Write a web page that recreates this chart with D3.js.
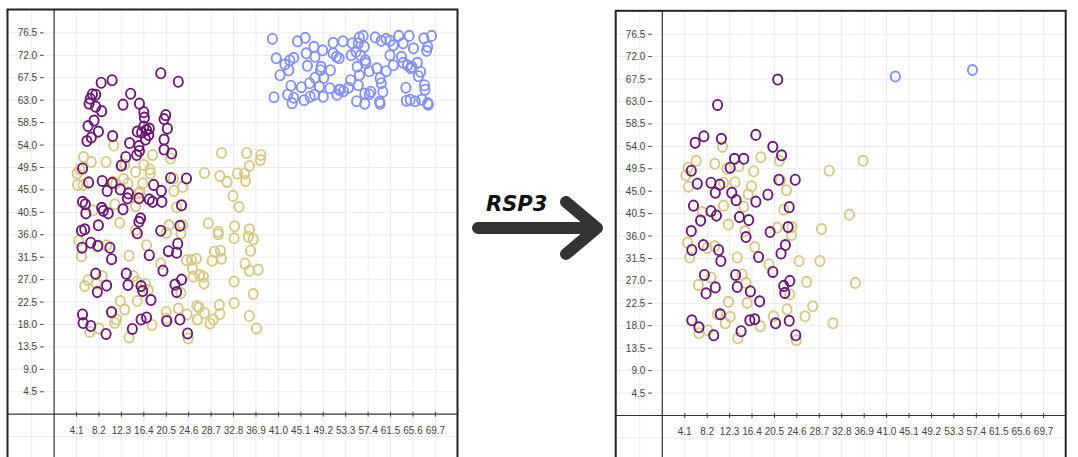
<!DOCTYPE html>
<html>
<head>
<meta charset="utf-8">
<script src="https://cdn.jsdelivr.net/npm/d3@7"></script>
<style>
  body { margin: 0; background: #fff; }
  svg { display: block; font-family: "Liberation Sans", Arial, sans-serif; }
</style>
</head>
<body>
<svg id="chart" width="1078" height="457"></svg>
<script>
// tick labels (same on both panels)
const xTicks = [4.1, 8.2, 12.3, 16.4, 20.5, 24.6, 28.7, 32.8, 36.9, 41.0, 45.1, 49.2, 53.3, 57.4, 61.5, 65.6, 69.7];
const yTicks = [4.5, 9.0, 13.5, 18.0, 22.5, 27.0, 31.5, 36.0, 40.5, 45.0, 49.5, 54.0, 58.5, 63.0, 67.5, 72.0, 76.5];

const arrowLabel = "RSP3";

// before (left panel)
const beforeBlue = [
  [39.9,75.3],[44.5,74.8],[45.9,75.5],[47.5,73.7],[49.1,73.0],[51.0,74.5],[52.8,74.8],[54.5,74.4],[55.8,75.6],[56.5,75.9],
  [55.6,74.4],[56.7,73.7],[58.7,75.6],[59.8,74.9],[60.7,75.3],[61.4,74.9],[63.0,75.9],[64.9,75.9],[67.6,75.4],[69.0,75.9],
  [68.3,73.7],[68.1,72.9],[65.7,73.4],[63.8,74.4],[62.0,74.0],
  [40.6,71.4],[42.2,70.2],[43.1,71.0],[43.8,71.5],[42.9,69.0],[41.3,68.0],[46.1,72.4],[46.3,69.9],[47.7,71.7],[48.8,69.7],
  [49.3,67.5],[48.7,69.0],[50.5,69.0],[51.6,71.7],[52.1,71.4],[51.0,72.4],[54.3,72.0],[55.2,72.7],[56.0,72.0],[56.9,71.0],
  [57.0,70.4],[55.4,69.7],[55.8,68.0],[54.2,67.0],[57.6,68.8],[59.0,69.4],[60.7,68.8],[61.4,72.0],[62.0,70.0],[63.5,71.7],
  [63.8,70.5],[64.6,70.0],[65.4,69.7],[66.4,70.5],[67.0,68.7],[66.6,67.8],[65.2,69.4],
  [43.3,65.9],[45.2,65.6],[46.7,66.4],[47.7,67.5],[48.5,65.7],[50.4,65.4],[52.3,65.1],[52.9,64.8],[53.8,65.5],[55.6,66.0],
  [59.6,67.4],[59.8,66.4],[60.1,64.7],[57.9,64.7],[56.8,64.3],[64.3,65.5],[67.7,66.0],[67.8,65.1],
  [40.2,63.6],[42.7,64.1],[43.5,62.4],[43.8,63.5],[45.7,63.0],[46.8,63.7],[47.6,64.1],[49.2,63.7],[51.7,64.1],[52.1,65.1],
  [55.3,62.8],[56.8,62.3],[57.6,64.2],[59.6,62.3],[59.5,62.7],[64.4,62.9],[66.0,62.8],[67.2,63.1],[68.3,62.4],[68.4,62.1],
  [65.1,63.1]
];

const beforePurple = [
  [8.6,66.5],[10.6,67.0],[19.5,68.4],[22.7,66.7],[14.0,64.3],[7.0,64.2],[7.6,64.1],[6.6,63.3],[6.4,62.3],[7.6,61.7],
  [8.7,60.8],[12.6,62.1],[15.6,62.3],[16.4,60.6],[16.5,59.5],[20.4,60.0],[20.1,59.2],[20.7,57.3],[7.3,58.9],[6.2,57.8],
  [8.1,56.7],[6.8,55.5],[6.0,54.8],[10.7,55.8],[13.8,54.4],[15.2,56.7],[16.0,56.5],[16.9,57.0],[17.4,57.3],[16.4,57.7],
  [17.3,56.0],[16.7,55.1],[20.1,55.1],[20.1,53.1],[15.5,53.8],[15.6,52.8],[15.1,52.0],[13.1,51.6],[12.3,49.9],[5.2,49.3],
  [21.5,52.3],[21.3,47.4],[24.2,47.3],[6.3,46.5],[8.8,46.8],[9.7,44.8],[10.6,46.4],[12.1,45.1],[13.6,44.3],[13.4,43.3],
  [15.5,43.3],[17.4,43.1],[18.0,42.6],[18.2,46.0],[19.6,44.8],[19.7,42.6],[23.3,41.9],[5.2,42.6],[5.7,42.1],[5.8,40.3],
  [8.7,41.4],[9.0,40.8],[9.9,40.3],[12.6,41.1],[15.8,39.3],[15.5,38.6],[8.1,37.9],[5.0,36.8],[5.6,37.1],[19.5,36.8],
  [23.0,37.8],[15.2,36.3],[5.1,33.4],[6.7,34.4],[8.0,33.8],[10.2,33.4],[10.5,31.1],[17.4,31.9],[22.6,34.2],[22.4,32.4],
  [20.9,32.7],[19.9,28.8],[7.6,28.2],[7.9,24.5],[9.6,25.8],[13.2,28.2],[13.5,25.9],[15.9,25.7],[16.2,24.7],[17.7,22.9],
  [22.1,26.0],[23.3,27.0],[22.4,24.5],[5.2,20.0],[5.3,18.3],[6.7,17.7],[9.5,16.1],[10.5,20.5],[14.3,17.1],[15.9,19.0],
  [16.9,19.4],[20.6,18.7],[23.0,19.0],[24.4,16.2]
];

const beforeYellow = [
  [10.9,53.9],[5.4,51.6],[6.8,50.6],[9.5,50.6],[18.0,52.0],[21.3,51.3],[30.6,52.4],[35.2,52.4],[37.8,52.0],[37.7,51.0],
  [35.7,49.8],[4.2,48.3],[4.7,49.1],[12.2,49.8],[12.9,50.1],[14.9,48.6],[17.5,49.1],[17.6,48.3],[16.4,50.0],[27.5,48.4],
  [30.3,47.8],[31.6,46.6],[33.5,48.3],[34.8,48.3],[35.0,46.8],[4.3,46.0],[5.3,46.0],[10.8,46.6],[11.3,46.3],[12.7,47.2],
  [13.5,46.3],[16.2,46.3],[15.7,44.6],[15.4,44.3],[21.8,47.3],[21.9,44.8],[23.5,45.6],[32.7,43.8],[33.8,41.6],[7.1,40.9],
  [11.1,42.1],[14.9,41.7],[22.4,41.5],[12.0,38.4],[14.9,36.9],[21.0,37.9],[23.5,37.9],[28.2,38.3],[30.0,36.6],[33.0,37.7],
  [35.7,37.1],[4.5,34.8],[5.0,31.7],[7.9,33.6],[9.6,33.9],[13.7,31.8],[16.9,33.9],[20.5,36.4],[23.2,36.3],[30.0,36.1],
  [32.9,35.3],[36.4,35.1],[35.5,35.6],[19.5,30.2],[24.2,30.9],[25.1,31.0],[26.0,31.2],[25.3,29.2],[25.4,27.6],[29.3,32.6],
  [30.4,32.8],[30.6,31.2],[28.9,30.8],[34.9,30.2],[35.7,28.8],[35.9,32.8],[37.3,29.0],[5.6,25.7],[6.2,26.9],[7.7,26.2],
  [8.8,27.7],[14.5,27.7],[15.1,26.6],[16.7,26.1],[17.2,24.9],[26.6,27.9],[27.3,27.6],[27.4,26.2],[23.2,24.3],[32.9,26.6],
  [36.4,24.1],[12.1,22.7],[12.9,21.0],[15.2,22.7],[11.4,19.0],[11.1,18.3],[10.5,20.3],[8.2,17.2],[6.5,16.5],[13.7,15.4],
  [17.9,17.9],[20.5,20.5],[20.5,19.2],[22.7,21.2],[24.3,20.0],[26.1,21.7],[26.5,21.4],[26.2,19.0],[27.5,20.3],[28.5,18.2],
  [29.1,19.0],[30.2,21.9],[30.3,20.1],[32.9,22.3],[35.7,19.7],[37.0,17.2],[24.5,15.2]
];

// after (right panel)
const afterBlue = [[42.6,68.0],[56.7,69.3]];

const afterPurple = [
  [21.1,67.4],[10.1,62.3],[6.0,54.7],[7.6,56.0],[10.8,55.5],[17.1,56.3],[20.2,53.9],[21.8,52.2],[13.2,51.5],[14.9,51.5],
  [12.4,49.7],[5.3,49.1],[6.4,46.5],[8.9,46.7],[10.5,46.3],[9.7,44.7],[12.7,44.7],[13.5,43.2],[17.1,42.9],[19.3,44.3],
  [21.3,47.3],[24.3,47.3],[23.2,41.8],[5.7,42.1],[8.9,41.0],[9.9,40.1],[7.0,39.1],[14.1,39.8],[15.8,39.2],[5.3,37.0],
  [19.7,36.8],[23.0,37.8],[15.3,35.8],[5.4,33.2],[7.5,34.2],[10.3,33.2],[10.7,31.0],[17.6,31.8],[22.5,34.2],[21.7,32.5],
  [20.2,28.8],[7.7,28.2],[8.0,24.5],[9.7,25.7],[13.4,28.2],[13.7,25.8],[16.1,24.9],[17.8,22.9],[22.2,26.0],[23.3,27.0],
  [22.4,24.6],[5.4,19.1],[6.7,17.7],[9.4,16.1],[10.6,20.3],[14.4,16.9],[16.0,19.1],[16.9,19.3],[20.7,18.5],[23.2,19.0],
  [24.4,16.1]
];

const afterYellow = [
  [11.0,53.9],[6.2,51.1],[9.6,50.5],[18.0,51.8],[21.4,51.1],[36.7,51.1],[30.5,49.1],[4.7,49.7],[4.3,48.2],[4.8,45.9],
  [11.8,49.5],[14.0,50.0],[16.7,49.0],[11.2,46.7],[13.3,46.8],[16.3,46.0],[15.7,44.4],[21.6,47.2],[22.7,45.2],[7.3,40.8],
  [11.2,42.1],[14.9,41.9],[22.2,41.3],[34.2,40.3],[12.1,38.3],[15.1,37.0],[21.0,37.7],[23.7,37.8],[29.1,37.4],[4.6,34.7],
  [5.0,31.7],[8.2,33.6],[9.6,34.0],[13.7,31.7],[16.9,33.8],[23.6,36.2],[19.5,30.3],[25.0,31.0],[28.8,31.0],[6.6,26.2],
  [8.9,27.7],[14.6,28.3],[15.3,26.6],[26.4,26.8],[23.3,24.3],[35.3,26.6],[12.1,22.8],[15.5,22.6],[27.5,21.9],[22.8,21.3],
  [10.1,20.3],[12.4,19.8],[11.5,18.5],[6.7,16.5],[8.3,17.1],[13.8,15.5],[17.9,17.9],[20.3,19.9],[26.1,19.9],[31.2,18.5],
  [24.5,15.1]
];

const colors = { yellow: "#d6c882", purple: "#6a1874", blue: "#8391f2" };

const panels = [
  { tx: 7.5, ty: 9.5, blue: beforeBlue, purple: beforePurple, yellow: beforeYellow },
  { tx: 615.7, ty: 10.8, blue: afterBlue, purple: afterPurple, yellow: afterYellow }
];

const svg = d3.select("#chart");
const panelW = 450, panelH = 470;
const ox = 46.6, oy = 404.7, step = 22.43;

panels.forEach((p, i) => {
  const g = svg.append("g").attr("transform", `translate(${p.tx},${p.ty})`);

  g.append("clipPath").attr("id", "clip" + i)
    .append("rect").attr("width", panelW).attr("height", panelH);

  const x = d3.scaleLinear().domain([0, 69.7]).range([ox, ox + 17 * step]);
  const y = d3.scaleLinear().domain([0, 76.5]).range([oy, oy - 17 * step]);

  const body = g.append("g").attr("clip-path", `url(#clip${i})`);

  // grid
  const gx = [-4.1, ...xTicks];
  const gy = [-4.5, ...yTicks];
  body.append("g").selectAll("line").data(gx).join("line")
    .attr("x1", d => x(d)).attr("x2", d => x(d))
    .attr("y1", 0).attr("y2", panelH)
    .attr("stroke", "#ebebeb").attr("stroke-width", 1);
  body.append("g").selectAll("line").data(gy).join("line")
    .attr("x1", 0).attr("x2", panelW)
    .attr("y1", d => y(d)).attr("y2", d => y(d))
    .attr("stroke", "#ebebeb").attr("stroke-width", 1);

  // axes
  body.append("line").attr("x1", 0).attr("x2", panelW)
    .attr("y1", y(0)).attr("y2", y(0))
    .attr("stroke", "#333").attr("stroke-width", 1.2);
  body.append("line").attr("x1", x(0)).attr("x2", x(0))
    .attr("y1", 0).attr("y2", panelH)
    .attr("stroke", "#333").attr("stroke-width", 1.2);

  // x ticks + labels
  body.append("g").selectAll("line").data(xTicks).join("line")
    .attr("x1", d => x(d)).attr("x2", d => x(d))
    .attr("y1", y(0) - 2.5).attr("y2", y(0) + 2.5)
    .attr("stroke", "#444").attr("stroke-width", 1);
  body.append("g").selectAll("text").data(xTicks).join("text")
    .attr("x", d => x(d)).attr("y", y(0) + 19.5)
    .attr("text-anchor", "middle")
    .style("font-size", "10px").style("fill", "#444")
    .text(d => d.toFixed(1));

  // y ticks + labels
  body.append("g").selectAll("line").data(yTicks).join("line")
    .attr("x1", ox - 14).attr("x2", ox - 10.5)
    .attr("y1", d => y(d)).attr("y2", d => y(d))
    .attr("stroke", "#444").attr("stroke-width", 1);
  body.append("g").selectAll("text").data(yTicks).join("text")
    .attr("x", ox - 17).attr("y", d => y(d) + 3.5)
    .attr("text-anchor", "end")
    .style("font-size", "10px").style("fill", "#444")
    .text(d => d.toFixed(1));

  // points
  ["blue", "yellow", "purple"].forEach(k => {
    body.append("g").selectAll("ellipse").data(p[k]).join("ellipse")
      .attr("cx", d => x(d[0])).attr("cy", d => y(d[1]))
      .attr("rx", 4.6).attr("ry", 5.1)
      .attr("fill", "none")
      .attr("stroke", colors[k]).attr("stroke-width", 1.9);
  });

  // frame
  g.append("rect").attr("width", panelW).attr("height", panelH)
    .attr("fill", "none").attr("stroke", "#222").attr("stroke-width", 2);
});

// arrow between panels
const arrow = svg.append("g");
arrow.append("path")
  .attr("d", "M478,228 L596,228 M566,202 L597,228 L566,254")
  .attr("fill", "none").attr("stroke", "#333")
  .attr("stroke-width", 12).attr("stroke-linecap", "round").attr("stroke-linejoin", "round");
arrow.append("text")
  .attr("x", 486).attr("y", 211)
  .style("font-family", "'DejaVu Sans', sans-serif")
  .style("font-size", "21px").style("font-weight", "bold").style("font-style", "italic")
  .style("fill", "#111")
  .text(arrowLabel);
</script>
</body>
</html>
